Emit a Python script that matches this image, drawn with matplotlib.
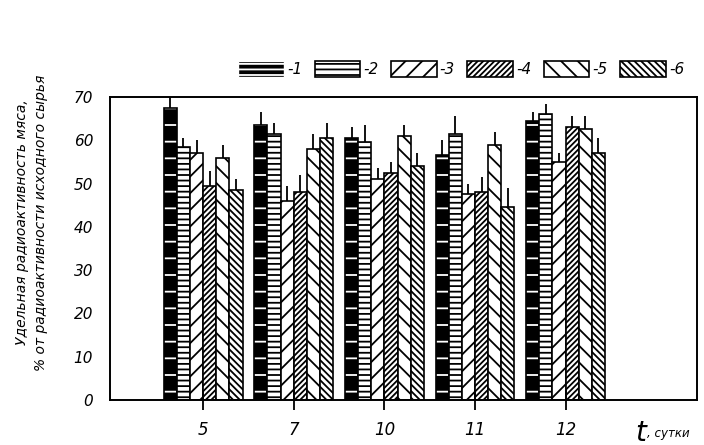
import numpy as np
import matplotlib.pyplot as plt
from matplotlib.patches import Patch

# Data
days = ['5', '7', '10', '11', '12']
s1 = [67.5, 63.5, 60.5, 56.5, 64.5]
s2 = [58.5, 61.5, 59.5, 61.5, 66.0]
s3 = [57.0, 46.0, 51.0, 47.5, 55.0]
s4 = [49.5, 48.0, 52.5, 48.0, 63.0]
s5 = [56.0, 58.0, 61.0, 59.0, 62.5]
s6 = [48.5, 60.5, 54.0, 44.5, 57.0]
e1 = [3.0, 3.0, 2.5, 3.5, 2.0]
e2 = [2.0, 2.5, 4.0, 4.0, 2.5]
e3 = [3.0, 3.5, 2.5, 2.5, 2.0]
e4 = [3.5, 4.0, 2.5, 3.5, 2.5]
e5 = [3.0, 3.5, 2.5, 3.0, 3.0]
e6 = [2.5, 3.5, 3.0, 4.5, 3.5]
labels = ['-1', '-2', '-3', '-4', '-5', '-6']

series = [s1, s2, s3, s4, s5, s6]
errors = [e1, e2, e3, e4, e5, e6]
hatches = ['-', '---', '//', '//////', '\\\\', '\\\\\\\\\\']

plt.rcParams['hatch.linewidth'] = 1.3
fig = plt.figure(figsize=(7.04, 4.45), dpi=100)
ax = fig.add_axes([0.156, 0.101, 0.834, 0.681])

x = np.arange(len(days))
w = 0.145
handles = []
for i, (vals, err, h) in enumerate(zip(series, errors, hatches)):
    pos = x + (i - 2.5) * w
    if i == 0:
        ax.bar(pos, vals, w, color='black', hatch=h, edgecolor='white', lw=0)
        ax.bar(pos, vals, w, fill=False, edgecolor='black', lw=1.2)
        handles.append(Patch(facecolor='black', hatch='---', edgecolor='white'))
    else:
        ax.bar(pos, vals, w, color='white', hatch=h, edgecolor='black', lw=1.2)
        handles.append(Patch(facecolor='white', hatch=h, edgecolor='black', lw=1.2))
    ax.errorbar(pos, vals, yerr=[np.zeros(len(vals)), err], fmt='none',
                ecolor='black', elinewidth=1.3, capsize=0)

ax.set_xlim(-1.03, 5.45)
ax.set_ylim(0, 70)
ax.set_yticks(range(0, 71, 10))
ax.set_xticks(x)
ax.set_xticklabels(days)
for sp in ax.spines.values():
    sp.set_linewidth(1.4)
ax.tick_params(axis='x', direction='inout', length=14, width=1.3, labelsize=12, pad=8)
ax.tick_params(axis='y', length=0, labelsize=11, pad=12)
for t in ax.get_xticklabels() + ax.get_yticklabels():
    t.set_style('italic')

ax.text(4.77, -7.5, 't', fontsize=20, style='italic', ha='left', va='center')
ax.text(4.9, -7.8, ', сутки', fontsize=8.5, style='italic', ha='left', va='center')

fig.text(0.045, 0.5, 'Удельная радиоактивность мяса,\n% от радиоактивности исходного сырья',
         rotation=90, ha='center', va='center', fontsize=10, style='italic', linespacing=1.4)

fig.legend(handles, labels, loc='center', bbox_to_anchor=(0.655, 0.845), ncol=6,
           frameon=False, handlelength=3.0, handleheight=1.3, handletextpad=0.2,
           columnspacing=0.8, prop={'style': 'italic', 'size': 11})

fig.savefig('out.png', dpi=100)
